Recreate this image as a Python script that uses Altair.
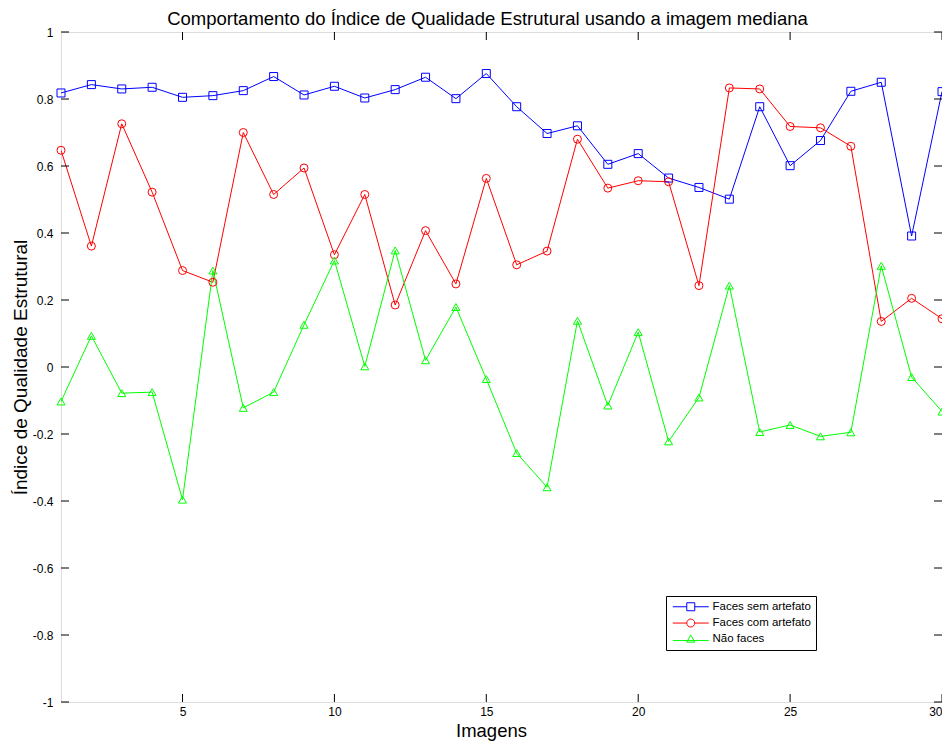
import altair as alt
import pandas as pd

imagens = list(range(1, 31))
faces_sem = [0.818, 0.843, 0.830, 0.835, 0.805, 0.810, 0.825, 0.867, 0.812, 0.838,
             0.803, 0.828, 0.865, 0.801, 0.876, 0.777, 0.697, 0.720, 0.605, 0.637,
             0.564, 0.536, 0.501, 0.777, 0.601, 0.676, 0.823, 0.850, 0.391, 0.822]
faces_com = [0.647, 0.361, 0.726, 0.522, 0.288, 0.253, 0.700, 0.515, 0.594, 0.335,
             0.515, 0.185, 0.407, 0.248, 0.563, 0.305, 0.346, 0.680, 0.534, 0.556,
             0.553, 0.243, 0.833, 0.830, 0.718, 0.714, 0.659, 0.136, 0.205, 0.144]
nao_faces = [-0.103, 0.093, -0.078, -0.075, -0.396, 0.288, -0.122, -0.075, 0.126, 0.318,
             0.002, 0.348, 0.020, 0.179, -0.036, -0.257, -0.359, 0.138, -0.115, 0.104,
             -0.222, -0.091, 0.243, -0.194, -0.173, -0.207, -0.195, 0.302, -0.030, -0.133]

series_names = ["Faces sem artefato", "Faces com artefato", "Não faces"]
series_colors = ["#0000FF", "#FF0000", "#00FF00"]
series_shapes = ["square", "circle", "triangle-up"]
legend_paths = [
    "M-4.5,0H-1M1,0H4.5M-1,-1H1V1H-1Z",
    "M-4.5,0H-1M1,0H4.5M-1,0A1,1 0 1,1 1,0A1,1 0 1,1 -1,0Z",
    "M-4.5,0.3H4.5M0,-1.1L1,0.7L-1,0.7Z",
]
x_ticks = [5, 10, 15, 20, 25, 30]
y_ticks = [-1, -0.8, -0.6, -0.4, -0.2, 0, 0.2, 0.4, 0.6, 0.8, 1]

rows = []
for name, vals in zip(series_names, [faces_sem, faces_com, nao_faces]):
    for xi, v in zip(imagens, vals):
        rows.append({"imagem": xi, "valor": v, "serie": name})
df = pd.DataFrame(rows)

W, H = 881, 670
FONT = "Liberation Sans"
TICKFONT = "Liberation Sans Narrow, Liberation Sans"

xs = alt.Scale(domain=[1, 30], nice=False, zero=False)
ys = alt.Scale(domain=[-1, 1], nice=False)

X = alt.X("imagem:Q", scale=xs, axis=alt.Axis(
    values=x_ticks, ticks=False, domain=False, grid=False, title="Imagens",
    labelFont=TICKFONT, labelFontSize=12, labelColor="#000000", labelPadding=4,
    titleFont=FONT, titleFontSize=18.5, titleFontWeight="normal", titleColor="#000000",
    titleX=430, titleY=34, titleBaseline="alphabetic", titleAlign="center",
    labelFlush=True))
Y = alt.Y("valor:Q", scale=ys, axis=alt.Axis(
    values=y_ticks, ticks=False, domain=False, grid=False,
    title="Índice de Qualidade Estrutural",
    labelFont=TICKFONT, labelFontSize=12, labelColor="#000000", labelPadding=8,
    labelExpr="'' + datum.value", labelFlush=False,
    titleFont=FONT, titleFontSize=19, titleFontWeight="normal", titleColor="#000000",
    titleX=-35, titleY=335, titleBaseline="alphabetic", titleAlign="center", titleAngle=270))

layers = []
for name, col in zip(series_names, series_colors):
    layers.append(
        alt.Chart(df).transform_filter(alt.datum.serie == name)
        .mark_line(color=col, strokeWidth=1, clip=True)
        .encode(x=X, y=Y, order="imagem:Q")
    )
for name, col, shp in zip(series_names, series_colors, series_shapes):
    layers.append(
        alt.Chart(df).transform_filter(alt.datum.serie == name)
        .mark_point(shape=shp, filled=False, color=col, size=64, strokeWidth=1, opacity=1)
        .encode(x=alt.X("imagem:Q", scale=xs), y=alt.Y("valor:Q", scale=ys))
    )

leg = alt.Legend(
    title=None, orient="none", legendX=605, legendY=564,
    strokeColor="#000000", fillColor="#FFFFFF", padding=5,
    labelFont=FONT, labelFontSize=11.5, labelColor="#000000",
    symbolOffset=14, labelOffset=16, rowPadding=3.3, symbolStrokeWidth=1,
    symbolSize=64, cornerRadius=0)
layers.append(
    alt.Chart(df).transform_filter("false")
    .mark_point(filled=False, size=64, strokeWidth=1, opacity=1)
    .encode(
        x=alt.X("imagem:Q", scale=xs), y=alt.Y("valor:Q", scale=ys),
        color=alt.Color("serie:N", scale=alt.Scale(domain=series_names, range=series_colors), legend=leg),
        shape=alt.Shape("serie:N", scale=alt.Scale(domain=series_names, range=legend_paths), legend=leg),
    )
)

# inward ticks
xt = pd.DataFrame({"t": x_ticks})
yt = pd.DataFrame({"t": y_ticks})
tick_color = "#000000"
layers.append(alt.Chart(xt).mark_rule(color=tick_color, strokeWidth=1).encode(
    x=alt.X("t:Q", scale=xs), y=alt.value(H), y2=alt.value(H - 8)))
layers.append(alt.Chart(xt).mark_rule(color=tick_color, strokeWidth=1).encode(
    x=alt.X("t:Q", scale=xs), y=alt.value(0), y2=alt.value(8)))
layers.append(alt.Chart(yt).mark_rule(color=tick_color, strokeWidth=1).encode(
    y=alt.Y("t:Q", scale=ys), x=alt.value(0), x2=alt.value(8)))
layers.append(alt.Chart(yt).mark_rule(color=tick_color, strokeWidth=1).encode(
    y=alt.Y("t:Q", scale=ys), x=alt.value(W), x2=alt.value(W - 8)))

chart = alt.layer(*layers).properties(
    width=W, height=H,
    title=alt.Title("Comportamento do Índice de Qualidade Estrutural usando a imagem mediana",
                    font=FONT, fontSize=18.5, fontWeight="normal", color="#000000",
                    anchor="middle", dx=-14, dy=7, offset=5),
    padding={"left": 53, "top": 24, "right": 0, "bottom": 39},
    autosize=alt.AutoSizeParams(type="none"),
).configure_view(stroke="#000000", strokeWidth=1).configure(background="#FFFFFF")

chart.save("out.html", embed_options={"renderer": "svg", "actions": False})
